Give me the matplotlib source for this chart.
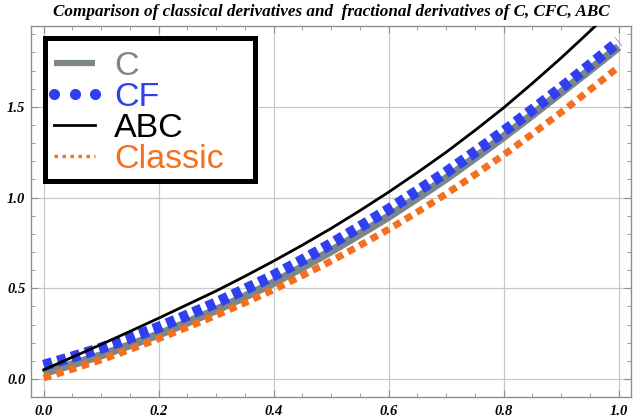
import numpy as np
import matplotlib.pyplot as plt
from matplotlib.lines import Line2D
from matplotlib.patches import Rectangle
from matplotlib.ticker import MultipleLocator

# values at x = 0, 0.05, ..., 1.0
x = [0.0, 0.05, 0.1, 0.15, 0.2, 0.25, 0.3, 0.35, 0.4, 0.45, 0.5,
     0.55, 0.6, 0.65, 0.7, 0.75, 0.8, 0.85, 0.9, 0.95, 1.0]
c_vals = [0.033, 0.08, 0.13, 0.186, 0.245, 0.311, 0.38, 0.454, 0.53, 0.616, 0.705,
          0.799, 0.895, 0.999, 1.105, 1.219, 1.335, 1.456, 1.58, 1.704, 1.83]
cf_vals = [0.075, 0.121, 0.17, 0.226, 0.285, 0.351, 0.42, 0.494, 0.57, 0.656, 0.745,
           0.839, 0.935, 1.036, 1.14, 1.251, 1.365, 1.484, 1.605, 1.731, 1.86]
abc_vals = [0.05, 0.12, 0.19, 0.262, 0.335, 0.41, 0.485, 0.566, 0.65, 0.738, 0.83,
            0.928, 1.03, 1.138, 1.25, 1.37, 1.495, 1.63, 1.77, 1.917, 2.07]
classic_vals = [0.005, 0.054, 0.105, 0.162, 0.222, 0.285, 0.35, 0.42, 0.492, 0.57, 0.65,
                0.736, 0.825, 0.92, 1.02, 1.126, 1.235, 1.351, 1.47, 1.594, 1.72]

labels = ["C", "CF", "ABC", "Classic"]
title = "Comparison of classical derivatives and  fractional derivatives of C, CFC, ABC"

gray = "#7b8686"
blue = "#3040f0"
orange = "#f4701f"

W, H = 640, 418
fig = plt.figure(figsize=(6.4, 4.18), dpi=100)
ax = fig.add_axes([31 / W, 21.3 / H, 599.7 / W, 370.7 / H])

ax.plot(x, c_vals, color=gray, lw=6, solid_capstyle="butt", zorder=3)
ax.plot(x, cf_vals, color=blue, lw=8, dashes=(0.8, 0.5), dash_capstyle="butt", zorder=4)
ax.plot(x, classic_vals, color=orange, lw=5, dashes=(1.1, 0.8), dash_capstyle="butt", zorder=4)
ax.plot(x, abc_vals, color="black", lw=2, zorder=5)

ax.set_xlim(-0.022, 1.021)
ax.set_ylim(-0.098, 1.946)
ax.xaxis.set_major_locator(MultipleLocator(0.2))
ax.xaxis.set_minor_locator(MultipleLocator(0.05))
ax.yaxis.set_major_locator(MultipleLocator(0.5))
ax.yaxis.set_minor_locator(MultipleLocator(0.1))
ax.grid(True, which="major", color="#c2caca", lw=0.9)
ax.set_axisbelow(True)
for s in ax.spines.values():
    s.set_color("#8a9090")
    s.set_linewidth(1.0)
ax.tick_params(which="both", direction="in", top=True, right=True, color="#8a9090")
ax.tick_params(which="major", length=5, width=0.8)
ax.tick_params(which="minor", length=3, width=0.6)
ax.tick_params(axis="x", pad=6)
ax.tick_params(axis="y", pad=4)
for lab in ax.get_xticklabels() + ax.get_yticklabels():
    lab.set_family("Liberation Serif")
    lab.set_weight("bold")
    lab.set_style("italic")
    lab.set_fontsize(10.5)

fig.text(331 / W, 1 - 12 / H, title, ha="center", va="center", family="Liberation Serif",
         weight="bold", style="italic", fontsize=12.3)

# legend frame drawn separately so its size matches the reference
ax.add_patch(Rectangle((44.5 / W, 1 - 180.5 / H), 210 / W, 143 / H,
                       transform=fig.transFigure, facecolor="white",
                       edgecolor="black", lw=3.6, zorder=6, clip_on=False))

handles = [
    Line2D([], [], color=gray, lw=4.5, solid_capstyle="butt"),
    Line2D([], [], color=blue, lw=0, marker="o", markersize=7),
    Line2D([], [], color="black", lw=2),
    Line2D([], [], color=orange, lw=2.5, dashes=(1, 1.3)),
]
leg = ax.legend(handles, labels, loc="upper left", bbox_to_anchor=(44 / W, 1 - 51 / H),
                bbox_transform=fig.transFigure,
                prop={"family": "Liberation Sans", "size": 24.5}, handlelength=1.8,
                handletextpad=0.25, labelspacing=0.0, borderpad=0,
                borderaxespad=0, frameon=False, numpoints=3)
leg.set_zorder(7)
for t, col in zip(leg.get_texts(), [gray, blue, "black", orange]):
    t.set_color(col)

fig.savefig("out.png", dpi=100)
